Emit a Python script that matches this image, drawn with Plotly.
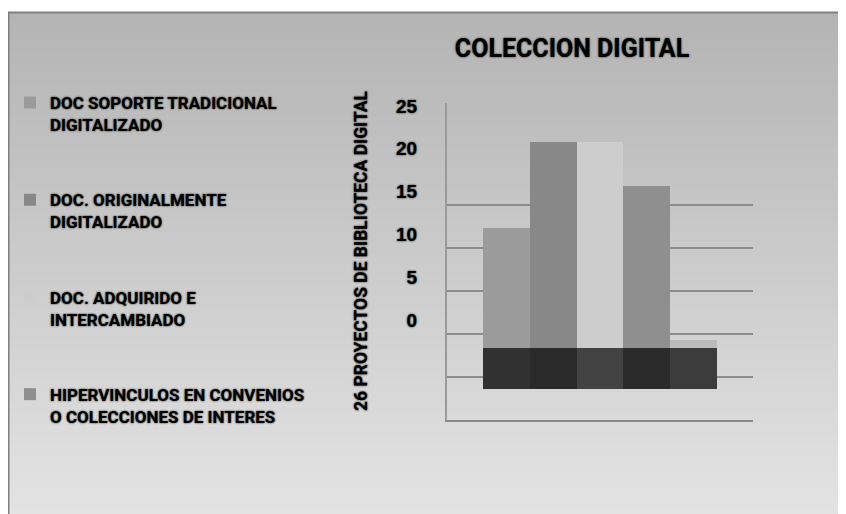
import base64
import struct
import zlib

import plotly.graph_objects as go

# ---------------- data ----------------
categories = ["C1", "C2", "C3", "C4", "C5"]
series_names = [
    "DOC SOPORTE TRADICIONAL<br>DIGITALIZADO",
    "DOC. ORIGINALMENTE<br>DIGITALIZADO",
    "DOC. ADQUIRIDO E<br>INTERCAMBIADO",
    "HIPERVINCULOS EN CONVENIOS<br>O COLECCIONES DE INTERES",
    "",
]
bar_tops = [10.7, 20.8, 20.8, 15.6, -2.3]      # top of each column (axis units)
floor_top = -3.3                                # top of the dark floor band
floor_bottom = -8.1                             # bottom of the dark floor band
tick_values = [0, 5, 10, 15, 20, 25]
tick_labels = ["0", "5", "10", "15", "20", "25"]
grid_values = [-10, -5, 0, 5, 10, 15]
y_title = "26 PROYECTOS DE BIBLIOTECA DIGITAL"
chart_title = "COLECCION DIGITAL"

# ---------------- style ----------------
bar_colors = ["#9b9b9b", "#888888", "#cdcdcd", "#8f8f8f", "#bcbcbc"]
floor_colors = ["#313131", "#2a2a2a", "#434343", "#2b2b2b", "#3c3c3c"]

W, H = 846, 506          # page body has an 8px margin
FONT = "Liberation Sans Narrow, Roboto, Arial, sans-serif"
SHADOW = "0px 0px 2px rgba(0,0,0,0.9)"


def px(x):
    return x / W


def py(y):
    return 1 - y / H


def gradient_png(top, bottom, rows=256):
    raw = b""
    for r in range(rows):
        v = int(round(top + (bottom - top) * r / (rows - 1)))
        raw += b"\x00" + bytes([v])

    def chunk(tag, data):
        c = tag + data
        return struct.pack(">I", len(data)) + c + struct.pack(">I", zlib.crc32(c) & 0xFFFFFFFF)

    png = b"\x89PNG\r\n\x1a\n"
    png += chunk(b"IHDR", struct.pack(">IIBBBBB", 1, rows, 8, 0, 0, 0, 0))
    png += chunk(b"IDAT", zlib.compress(raw, 9))
    png += chunk(b"IEND", b"")
    return "data:image/png;base64," + base64.b64encode(png).decode()


fig = go.Figure()

# dark floor band
fig.add_trace(go.Bar(
    x=categories,
    y=[floor_top - floor_bottom] * len(categories),
    base=[floor_bottom] * len(categories),
    width=1.0,
    marker=dict(color=floor_colors, line=dict(width=0)),
    showlegend=False,
    hoverinfo="skip",
    yaxis="y",
))

# columns
for i, cat in enumerate(categories):
    fig.add_trace(go.Bar(
        x=[cat],
        y=[bar_tops[i] - floor_top],
        base=[floor_top],
        width=1.0,
        name=series_names[i],
        legendgroup="g%d" % i,
        showlegend=bool(series_names[i]),
        marker=dict(color=bar_colors[i], line=dict(width=0)),
        yaxis="y",
    ))

# invisible trace so the grid axis renders
fig.add_trace(go.Scatter(x=[categories[0]], y=[0], yaxis="y2", mode="markers",
                         marker=dict(opacity=0), showlegend=False, hoverinfo="skip"))

x0p, x1p = 439, 745
y0p, y1p = 95, 412

shapes = [
    dict(type="line", xref="paper", yref="paper", layer="above",
         x0=0, x1=1.0, y0=py(4.5), y1=py(4.5),
         line=dict(color="#7f7f7f", width=2)),
    dict(type="line", xref="paper", yref="paper", layer="above",
         x0=px(0.5), x1=px(0.5), y0=0, y1=py(4),
         line=dict(color="#7f7f7f", width=2)),
]

images = [dict(source=gradient_png(180, 227), xref="paper", yref="paper",
               x=px(1), y=py(5), sizex=px(W - 1), sizey=(H - 5) / H,
               xanchor="left", yanchor="top", sizing="stretch", layer="below")]

fig.update_layout(
    width=W, height=H,
    margin=dict(l=0, r=0, t=0, b=0, autoexpand=False),
    paper_bgcolor="white",
    plot_bgcolor="rgba(0,0,0,0)",
    barmode="overlay",
    bargap=0,
    shapes=shapes,
    images=images,
    font=dict(family=FONT, color="black", weight="bold", shadow=SHADOW),
    title=dict(text=chart_title, x=px(564), xanchor="center",
               y=py(40), yanchor="middle",
               font=dict(family=FONT, size=25, weight="bold", color="black", shadow=SHADOW)),
    xaxis=dict(domain=[px(x0p), px(x1p)], range=[-1.27, 5.27], automargin=False,
               showticklabels=False, ticks="", showgrid=False, zeroline=False,
               showline=True, linecolor="#8a8a8a", linewidth=2,
               categoryorder="array", categoryarray=categories),
    yaxis=dict(domain=[py(y1p), py(y0p)], range=[-11.68, 25.35], automargin=False,
               tickvals=tick_values, ticktext=tick_labels,
               tickfont=dict(family="Liberation Sans, Arial, sans-serif", size=19,
                             weight="bold", color="black", shadow=SHADOW),
               ticks="", ticklabelstandoff=24,
               showgrid=False, zeroline=False,
               showline=True, linecolor="#9a9a9a", linewidth=2),
    yaxis2=dict(domain=[py(y1p), py(y0p)], range=[-10, 26.86], automargin=False,
                overlaying="y", anchor="x", side="left",
                tickvals=grid_values, showticklabels=False, ticks="",
                showgrid=True, gridcolor="#8c8c8c", gridwidth=2,
                zeroline=False, showline=False),
    legend=dict(x=px(2), xanchor="left", y=py(77), yanchor="top",
                traceorder="grouped", tracegroupgap=50, valign="top",
                bgcolor="rgba(0,0,0,0)",
                font=dict(family=FONT, size=17, weight="bold", color="black", shadow=SHADOW)),
    annotations=[dict(text=y_title, textangle=-90, xref="paper", yref="paper",
                      x=px(353), y=py(243), xanchor="center", yanchor="middle",
                      showarrow=False,
                      font=dict(family=FONT, size=17.5, weight="bold", color="black",
                                shadow=SHADOW))],
)

fig.write_html("out.html", default_width="%dpx" % W, default_height="%dpx" % H)
